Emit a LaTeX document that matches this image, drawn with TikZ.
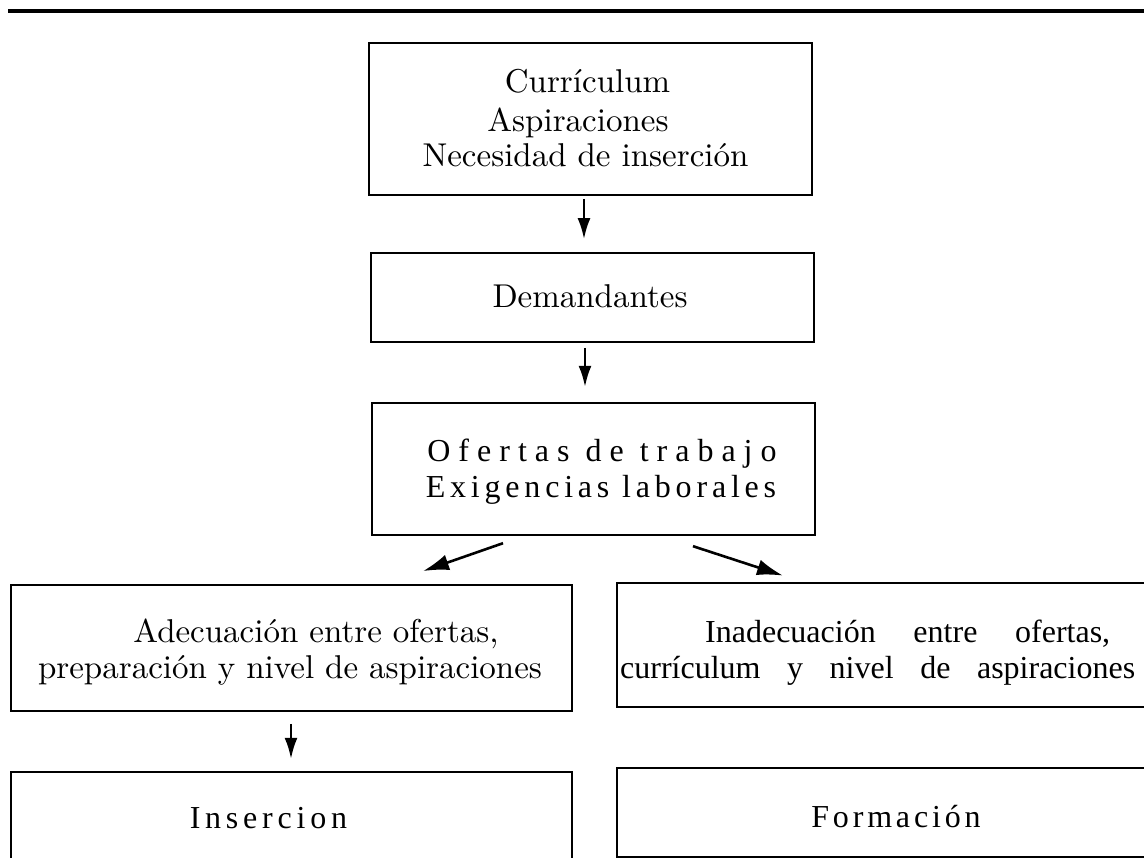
\documentclass[tikz,border=0pt]{standalone}
\usepackage{fontspec}
\newfontfamily\tms{Liberation Serif}
\newfontfamily\garm{lmroman10-regular.otf}
\usetikzlibrary{arrows.meta}
\tikzset{
  box/.style={draw, line width=1.8pt, inner sep=0pt, rectangle},
  gar/.style={inner sep=0pt, anchor=base, font=\garm\fontsize{33}{40}\selectfont},
  tim/.style={inner sep=0pt, anchor=base, font=\tms\fontsize{32}{38}\selectfont},
  conn/.style={line width=2.4pt, -{Latex[length=21pt,width=13pt]}},
  dconn/.style={line width=2.6pt, -{Latex[length=26pt,width=16pt]}},
}
\begin{document}
\begin{tikzpicture}[x=1pt,y=-1pt]
\useasboundingbox (0,0) rectangle (1144,858);
\clip (0,0) rectangle (1144,858);
\fill[white] (0,0) rectangle (1144,858);
% top rule
\draw[line width=4pt] (8,11) -- (1150,11);
% boxes
\node[box, minimum width=443pt, minimum height=152pt] (b1) at (590.5,119) {};
\node[box, minimum width=443pt, minimum height=89pt] (b2) at (592.5,297.5) {};
\node[box, line width=2.4pt, minimum width=443pt, minimum height=132pt] (b3) at (593.5,469) {};
\node[box, minimum width=561pt, minimum height=126pt] (b4) at (291.5,648) {};
\node[box, line width=2.4pt, minimum width=561pt, minimum height=98pt] (b5) at (291.5,821) {};
\node[box, line width=2.8pt, minimum width=543pt, minimum height=124pt] (b6) at (888.5,645) {};
\node[box, line width=2.8pt, minimum width=543pt, minimum height=89pt] (b7) at (888.5,812.5) {};
% texts
\node[gar] (t1a) at (587.5,93) {Currículum};
\node[gar] (t1b) at (578,132) {Aspiraciones};
\node[gar] (t1c) at (585.5,167) {Necesidad de inserción};
\node[gar] (t2) at (590,308) {Demandantes};
\node[tim, font={\tms\fontsize{32}{38}\selectfont\addfontfeature{LetterSpace=25}}] (t3a) at (602,462) {Ofertas de trabajo};
\node[tim, font={\tms\fontsize{32}{38}\selectfont\addfontfeature{LetterSpace=15}}] (t3b) at (601,498) {Exigencias laborales};
\node[gar] (t4a) at (316,642) {Adecuación entre ofertas,};
\node[gar] (t4b) at (290,678) {preparación y nivel de aspiraciones};
\node[tim, font={\tms\fontsize{32}{38}\selectfont\addfontfeature{LetterSpace=15}}] (t5) at (268.5,828) {Insercion};
\node[tim, anchor=base west] (t6a) at (705,642) {\makebox[405pt][s]{Inadecuación entre ofertas,}};
\node[tim, anchor=base west] (t6b) at (620,678) {\makebox[515pt][s]{currículum y nivel de aspiraciones}};
\node[tim, font={\tms\fontsize{32}{38}\selectfont\addfontfeature{LetterSpace=12}}] (t7) at (896,827) {Formación};
% connectors
\draw[conn] ([xshift=-6.5pt,yshift=-3pt]b1.south) -- ([xshift=-8.5pt,yshift=13pt]b2.north);
\draw[conn] ([xshift=-7.5pt,yshift=-5pt]b2.south) -- ([xshift=-8.5pt,yshift=15pt]b3.north);
\draw[dconn] ([xshift=-90.5pt,yshift=-7pt]b3.south) -- ([xshift=131.5pt,yshift=13pt]b4.north);
\draw[dconn] ([xshift=99.5pt,yshift=-10pt]b3.south) -- ([xshift=-105.5pt,yshift=6pt]b6.north);
\draw[conn] ([xshift=-0.5pt,yshift=-12pt]b4.south) -- ([xshift=-0.5pt,yshift=12pt]b5.north);
\end{tikzpicture}
\end{document}
